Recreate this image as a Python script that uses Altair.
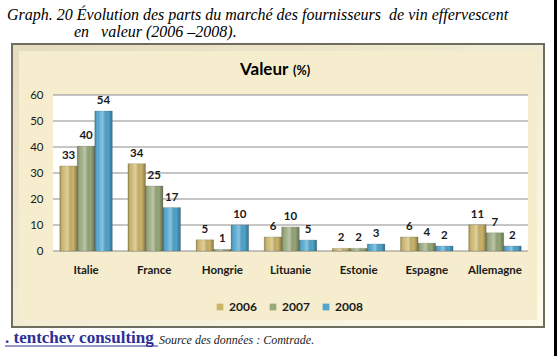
import altair as alt
import pandas as pd

countries = ["Italie", "France", "Hongrie", "Lituanie", "Estonie", "Espagne", "Allemagne"]
years = ["2006", "2007", "2008"]
v2006 = [32.7, 33.6, 4.3, 5.4, 1.0, 5.4, 10.1]
v2007 = [40.3, 25.0, 0.6, 9.2, 1.0, 3.0, 7.0]
v2008 = [53.8, 16.7, 10.0, 4.2, 2.7, 1.9, 1.9]
l2006 = ["33", "34", "5", "6", "2", "6", "11"]
l2007 = ["40", "25", "1", "10", "2", "4", "7"]
l2008 = ["54", "17", "10", "5", "3", "2", "2"]
y_ticks = [0, 10, 20, 30, 40, 50, 60]
colors = ["#CDB66A", "#98A87A", "#4EA6CF"]

rows = []
for yr, vals, labs in zip(years, [v2006, v2007, v2008], [l2006, l2007, l2008]):
    for c, v, l in zip(countries, vals, labs):
        rows.append({"pays": c, "annee": yr, "part": v, "label": l})
df = pd.DataFrame(rows)
grid_df = pd.DataFrame({"part": y_ticks})
one = pd.DataFrame({"a": [0]})

W, H = 475, 156
PL, PT = 53, 95
PR, PB = 557 - PL - W, 356 - PT - H

y_axis = alt.Axis(title=None, values=y_ticks, labelFont="Lato", labelFontSize=11.5,
                  labelColor="#1a1a1a", labelPadding=10, ticks=False, domain=False,
                  grid=False, zindex=1)
y_scale = alt.Scale(domain=[0, 60], nice=False)

x_enc = alt.X("pays:N", sort=countries,
              scale=alt.Scale(paddingInner=0.23, paddingOuter=0.1),
              axis=alt.Axis(title=None, labelAngle=0, labelFont="Lato", labelFontWeight="bold",
                            labelFontSize=11.5, labelColor="#1a1a1a", labelPadding=13,
                            ticks=False, domain=False, grid=False, zindex=1))
xo_enc = alt.XOffset("annee:N", sort=years, scale=alt.Scale(paddingInner=0, paddingOuter=0))
y_enc = alt.Y("part:Q", scale=y_scale, axis=y_axis)


def deco_rect(x, x2, y, y2, **kw):
    return alt.Chart(one).mark_rect(**kw).encode(
        x=alt.value(x), x2=alt.value(x2), y=alt.value(y), y2=alt.value(y2))


def deco_text(txt, x, y, **kw):
    return alt.Chart(one).mark_text(text=txt, align="left", baseline="alphabetic", **kw).encode(
        x=alt.value(x), y=alt.value(y))


# decorations (coordinates relative to plot area)
frame = deco_rect(557 - PL - 3, 557 - PL, -PT, 356 - PT, color="black")
panel_outer = deco_rect(12 - PL, 544 - PL, 44 - PT, 327 - PT,
                        color=alt.LinearGradient(gradient="linear", x1=0, y1=0, x2=1, y2=1,
                                                 stops=[alt.GradientStop(color="#E4DCBE", offset=0),
                                                        alt.GradientStop(color="#FFFBEA", offset=1)]),
                        stroke="#6E6E60", strokeWidth=2)
panel_inner = deco_rect(19 - PL, 537 - PL, 51 - PT, 320 - PT, color="#F5EDCE")
plot_bg = deco_rect(0, W, 0, H, color="white")

grid = alt.Chart(grid_df).mark_rule(color="#8C8C8C", strokeWidth=1).encode(
    y=y_enc, x=alt.value(0), x2=alt.value(W))

bars = alt.Chart(df).mark_bar(stroke="#5a5a48", strokeWidth=0.4, strokeOpacity=0.6).encode(
    x=x_enc, xOffset=xo_enc, y=y_enc,
    color=alt.Color("annee:N", scale=alt.Scale(domain=years, range=colors),
                    legend=alt.Legend(title=None, orient="none", legendX=214 - PL, legendY=301 - PT,
                                      direction="horizontal", symbolType="square", symbolSize=45,
                                      symbolStrokeWidth=0, labelFont="Lato", labelFontWeight="bold",
                                      labelFontSize=12, labelColor="#1a1a1a", columnPadding=10,
                                      labelOffset=3)))

shade = alt.Chart(df).mark_bar(
    color=alt.LinearGradient(gradient="linear", x1=0, y1=0, x2=1, y2=0,
                             stops=[alt.GradientStop(color="rgba(0,0,0,0.28)", offset=0),
                                    alt.GradientStop(color="rgba(255,255,255,0.05)", offset=0.2),
                                    alt.GradientStop(color="rgba(255,255,255,0.35)", offset=0.45),
                                    alt.GradientStop(color="rgba(0,0,0,0.0)", offset=0.75),
                                    alt.GradientStop(color="rgba(0,0,0,0.32)", offset=1)])
).encode(x=x_enc, xOffset=xo_enc, y=y_enc)

labels = alt.Chart(df).mark_text(font="Lato", fontWeight="bold", fontSize=11.5, color="#1a1a1a",
                                 dy=-7, baseline="alphabetic").encode(
    x=x_enc, xOffset=xo_enc, y=y_enc, text="label:N")

nb = "\u00a0"
t1 = deco_text("Graph. 20 Évolution des parts du marché des fournisseurs" + nb + " de vin effervescent",
               7 - PL, 20 - PT, font="Liberation Serif", fontStyle="italic", fontSize=16, color="black")
t2 = deco_text("en" + nb * 3 + "valeur (2006 –2008).", 74 - PL, 37 - PT,
               font="Liberation Serif", fontStyle="italic", fontSize=16, color="black")
tv = deco_text("Valeur", 240 - PL, 75 - PT, font="Lato", fontWeight="bold", fontSize=17, color="black")
tp = deco_text("(%)", 293 - PL, 75 - PT, font="Lato", fontWeight="bold", fontSize=12.5, color="black")
f1 = deco_text(". tentchev consulting", 5 - PL, 343 - PT, font="Liberation Serif", fontWeight="bold",
               fontSize=17, color="#2E2E96")
f1u = alt.Chart(one).mark_rule(color="#2E2E96", strokeWidth=1).encode(
    x=alt.value(5 - PL), x2=alt.value(158 - PL), y=alt.value(346 - PT))
f2 = deco_text("Source des données : Comtrade.", 159 - PL, 344 - PT, font="Liberation Serif",
               fontStyle="italic", fontSize=12, color="#222222")

chart = alt.layer(
    frame, panel_outer, panel_inner, plot_bg, grid, bars, shade, labels,
    t1, t2, tv, tp, f1, f1u, f2
).properties(
    width=W, height=H,
    autosize=alt.AutoSizeParams(type="none"),
    padding={"left": PL, "top": PT, "right": PR, "bottom": PB},
    background="white",
).configure_view(strokeWidth=0)

chart.save("out.html", embed_options={"renderer": "svg", "actions": False})
